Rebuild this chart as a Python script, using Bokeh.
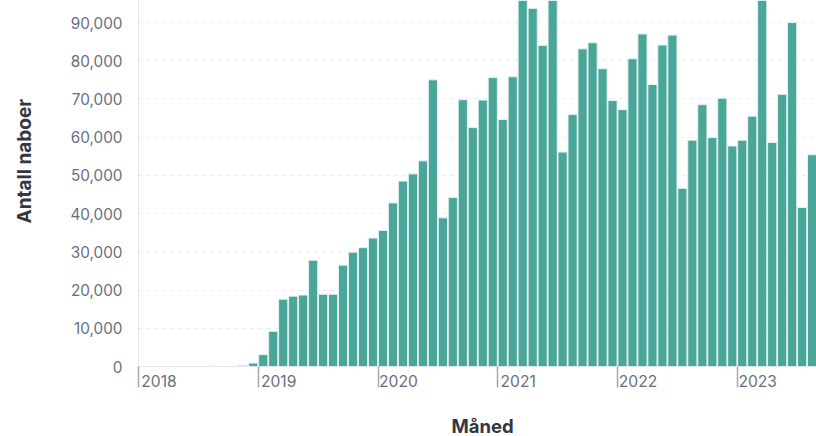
import math
from bokeh.plotting import figure
from bokeh.models import Range1d, FixedTicker, NumeralTickFormatter, Title
from bokeh.embed import file_html
from bokeh.resources import INLINE

# ---- data (monthly counts, Jan 2018 .. Aug 2023) ----
years = ["2018", "2019", "2020", "2021", "2022", "2023"]
counts_2018 = [0, 0, 0, 0, 0, 0, 0, 100, 0, 0, 300, 900]
counts_2019 = [3100, 9200, 17600, 18400, 18700, 27800, 18900, 18900, 26500, 29900, 31100, 33600]
counts_2020 = [35600, 42800, 48500, 50400, 53800, 75000, 38900, 44200, 69800, 62500, 69700, 75600]
counts_2021 = [64600, 75800, 104000, 93700, 84000, 100500, 56100, 65900, 83100, 84700, 77900, 69600]
counts_2022 = [67200, 80500, 87000, 73800, 84100, 86700, 46600, 59200, 68500, 59900, 70200, 57700]
counts_2023 = [59200, 65500, 102000, 58600, 71200, 90000, 41600, 55400]

counts = counts_2018 + counts_2019 + counts_2020 + counts_2021 + counts_2022 + counts_2023
month_index = list(range(len(counts)))
bar_centers = [m + 0.5 for m in month_index]

y_ticks = list(range(0, 100000, 10000))
year_starts = [12 * i for i in range(len(years))]
label_pos = [s + 2.05 for s in year_starts]   # labels sit just right of the year tick

FONT = "Inter"
TICK_COLOR = "#69707d"
TITLE_COLOR = "#343741"

p = figure(width=816, height=436, output_backend="svg", toolbar_location=None,
           x_range=Range1d(0, 67.94), y_range=Range1d(0, 95756),
           min_border_left=138, min_border_right=0, min_border_top=0, min_border_bottom=70)
p.outline_line_color = None
p.background_fill_color = "white"

p.vbar(x=bar_centers, top=counts, width=0.92, bottom=0,
       fill_color="#4ba69a", line_color="#e4f2ef", line_width=1)

# y axis
ya = p.yaxis[0]
ya.ticker = FixedTicker(ticks=y_ticks)
ya.formatter = NumeralTickFormatter(format="0,0")
ya.major_tick_out = 0
ya.major_tick_in = 0
ya.minor_tick_out = 0
ya.minor_tick_in = 0
ya.major_label_standoff = 16
ya.axis_line_color = "#e3e6ee"
ya.major_label_text_font = FONT
ya.major_label_text_font_size = "15.3px"
ya.major_label_text_color = TICK_COLOR

# x axis: year tick marks as minor ticks, labels as major ticks
xa = p.xaxis[0]
xa.ticker = FixedTicker(ticks=label_pos, minor_ticks=year_starts)
xa.major_label_overrides = {t: y for t, y in zip(label_pos, years)}
xa.major_tick_out = 0
xa.major_tick_in = 0
xa.minor_tick_out = 21
xa.minor_tick_in = 0
xa.minor_tick_line_color = "#a3a9b5"
xa.minor_tick_line_width = 1.5
xa.axis_line_color = "#e3e6ee"
xa.major_label_standoff = -13
xa.major_label_text_font = FONT
xa.major_label_text_font_size = "15.6px"
xa.major_label_text_color = TICK_COLOR

p.xgrid.grid_line_color = None
p.ygrid.grid_line_color = "#e9ecf3"
p.ygrid.grid_line_dash = "4 4"
p.ygrid.grid_line_width = 1

# axis titles
p.add_layout(Title(text="Antall naboer", align="left", offset=143, standoff=0,
                   vertical_align="bottom",
                   padding=dict(left=0, right=0, top=0, bottom=32),
                   text_font=FONT, text_font_style="bold",
                   text_font_size="19px", text_color=TITLE_COLOR), "left")
p.add_layout(Title(text="Måned", align="left", offset=313, standoff=0,
                   vertical_align="bottom",
                   padding=dict(left=0, right=0, top=23, bottom=0),
                   text_font=FONT, text_font_style="bold",
                   text_font_size="18.5px", text_color=TITLE_COLOR), "below")

open("out.html", "w").write(file_html(p, INLINE))
